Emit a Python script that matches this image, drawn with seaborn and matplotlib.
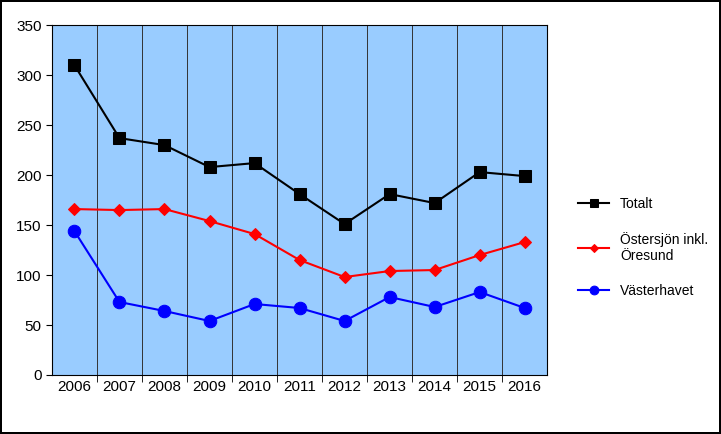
import matplotlib
matplotlib.use("Agg")
import matplotlib.pyplot as plt
import seaborn as sns
import pandas as pd

years = ["2006", "2007", "2008", "2009", "2010", "2011", "2012", "2013", "2014", "2015", "2016"]
totalt = [310, 237, 230, 208, 212, 181, 151, 181, 172, 203, 199]
ostersjon = [166, 165, 166, 154, 141, 115, 98, 104, 105, 120, 133]
vasterhavet = [144, 73, 64, 54, 71, 67, 54, 78, 68, 83, 67]

plt.rcParams["font.family"] = "Liberation Sans"
fig = plt.figure(figsize=(7.21, 4.34), dpi=100)
ax = fig.add_axes([0.072, 0.136, 0.687, 0.806])
ax.set_facecolor("#99CCFF")

pos = list(range(len(years)))
series = [
    ("Totalt", totalt, "black", "s", 8),
    ("Östersjön inkl.\nÖresund", ostersjon, "#FF0000", "D", 6),
    ("Västerhavet", vasterhavet, "#0000FF", "o", 9),
]
for name, vals, col, mk, ms in series:
    df = pd.DataFrame({"x": pos, "y": vals})
    sns.lineplot(data=df, x="x", y="y", ax=ax, color=col, marker=mk, markersize=ms,
                 markeredgecolor=col, linewidth=1.5, label=name)

ax.set_xlim(-0.5, len(years) - 0.5)
ax.set_ylim(0, 350)
ax.set_yticks(range(0, 351, 50))
ax.set_xticks(pos)
ax.set_xticklabels(years)
ax.set_xticks([p + 0.5 for p in pos[:-1]], minor=True)
ax.grid(True, which="minor", axis="x", color="#333333", linewidth=0.7)
ax.tick_params(axis="x", which="major", length=0, labelsize=11)
ax.tick_params(axis="x", which="minor", length=5, direction="out")
ax.tick_params(axis="y", labelsize=11, length=4)
ax.set_xlabel("")
ax.set_ylabel("")
for s in ax.spines.values():
    s.set_color("black")

h, l = ax.get_legend_handles_labels()
ax.legend_.remove()
fig.legend(h, l, loc="center left", bbox_to_anchor=(0.785, 0.43), frameon=False,
           fontsize=10, labelspacing=1.5, handlelength=2.2, markerscale=0.7)

fig.patch.set_edgecolor("black")
fig.patch.set_linewidth(1.5)
fig.savefig("out.png", dpi=100, edgecolor=fig.get_edgecolor())
